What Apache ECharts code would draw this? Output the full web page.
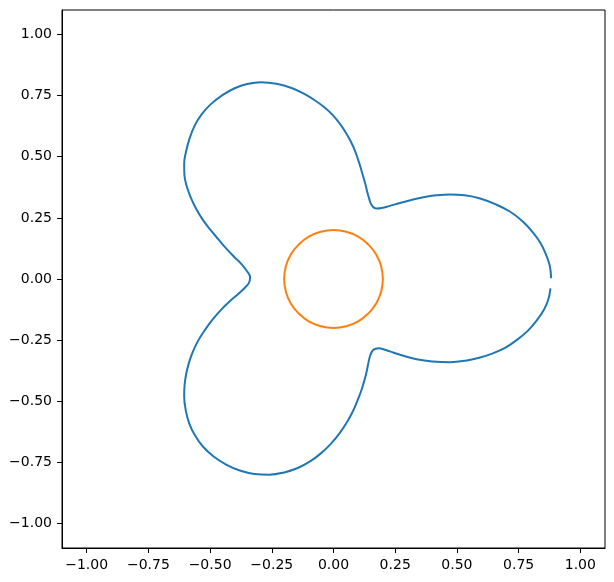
<!DOCTYPE html>
<html>
<head>
<meta charset="utf-8">
<script src="https://cdn.jsdelivr.net/npm/echarts@6/dist/echarts.min.js"></script>
<style>
html,body{margin:0;padding:0;background:#fff;}
#chart{width:614px;height:582px;}
</style>
</head>
<body>
<div id="chart"></div>
<script>
// Blue three-lobed curve, in drawing order
const curveX = [0.882,0.876,0.859,0.838,0.811,0.767,0.716,0.658,0.594,0.532,0.472,0.415,0.364,0.315,0.269,0.225,0.195,0.176,0.161,0.151,0.144,0.137,0.131,0.123,0.113,0.100,0.086,0.070,0.052,0.027,-0.002,-0.037,-0.076,-0.120,-0.170,-0.230,-0.293,-0.350,-0.400,-0.450,-0.500,-0.535,-0.562,-0.584,-0.598,-0.605,-0.604,-0.595,-0.579,-0.556,-0.530,-0.500,-0.467,-0.435,-0.403,-0.373,-0.351,-0.338,-0.342,-0.358,-0.385,-0.417,-0.452,-0.487,-0.520,-0.550,-0.575,-0.593,-0.603,-0.605,-0.599,-0.585,-0.562,-0.530,-0.487,-0.435,-0.380,-0.320,-0.260,-0.200,-0.145,-0.095,-0.050,-0.010,0.025,0.055,0.079,0.098,0.113,0.125,0.134,0.141,0.148,0.157,0.170,0.185,0.205,0.228,0.280,0.337,0.400,0.472,0.535,0.590,0.640,0.695,0.743,0.787,0.825,0.852,0.870,0.879];
const curveY = [0.003,0.055,0.105,0.148,0.187,0.235,0.275,0.305,0.329,0.342,0.346,0.342,0.334,0.323,0.311,0.298,0.290,0.288,0.294,0.308,0.330,0.355,0.380,0.410,0.445,0.487,0.527,0.562,0.595,0.633,0.669,0.702,0.731,0.758,0.781,0.798,0.805,0.797,0.780,0.752,0.712,0.672,0.628,0.572,0.518,0.472,0.425,0.380,0.335,0.286,0.243,0.203,0.163,0.125,0.091,0.061,0.033,0.008,-0.015,-0.035,-0.060,-0.088,-0.122,-0.162,-0.207,-0.255,-0.310,-0.370,-0.430,-0.480,-0.535,-0.589,-0.638,-0.684,-0.725,-0.759,-0.783,-0.797,-0.800,-0.791,-0.773,-0.746,-0.712,-0.673,-0.630,-0.585,-0.540,-0.495,-0.455,-0.415,-0.380,-0.345,-0.315,-0.295,-0.285,-0.283,-0.288,-0.296,-0.313,-0.328,-0.337,-0.340,-0.334,-0.322,-0.306,-0.282,-0.249,-0.212,-0.167,-0.127,-0.085,-0.038];

// Orange circle of radius 0.2
const circleX = [0.2,0.193,0.173,0.141,0.1,0.052,0,-0.052,-0.1,-0.141,-0.173,-0.193,-0.2,-0.193,-0.173,-0.141,-0.1,-0.052,0,0.052,0.1,0.141,0.173,0.193,0.2];
const circleY = [0,0.052,0.1,0.141,0.173,0.193,0.2,0.193,0.173,0.141,0.1,0.052,0,-0.052,-0.1,-0.141,-0.173,-0.193,-0.2,-0.193,-0.173,-0.141,-0.1,-0.052,0];

// Tick values
const xTicks = [-1,-0.75,-0.5,-0.25,0,0.25,0.5,0.75,1];
const yTicks = [-1,-0.75,-0.5,-0.25,0,0.25,0.5,0.75,1];

const zip = (a,b) => a.map((v,i)=>[v,b[i]]);
const fmt = v => (v < -1e-9 ? '\u2212' : '') + Math.abs(v).toFixed(2);

function axis(ticks){
  return {
    type:'value', min:-1.1, max:1.1,
    axisLine:{show:true, onZero:false, lineStyle:{color:'#000', width:1}},
    axisTick:{show:true, inside:false, length:5, lineStyle:{color:'#000', width:1}, customValues:ticks},
    axisLabel:{show:true, color:'#000', fontSize:14, fontFamily:'DejaVu Sans', margin:10, formatter:fmt, customValues:ticks},
    splitLine:{show:false}
  };
}

const chart = echarts.init(document.getElementById('chart'), null, {renderer:'canvas'});
chart.setOption({
  animation:false,
  backgroundColor:'#fff',
  grid:{left:62, right:9, top:10, bottom:34, show:true, borderColor:'#000', borderWidth:1, backgroundColor:'transparent'},
  xAxis: axis(xTicks),
  yAxis: axis(yTicks),
  series:[
    {type:'line', data:zip(curveX,curveY), showSymbol:false, smooth:0.4, lineStyle:{color:'#1f77b4', width:2}, itemStyle:{color:'#1f77b4'}},
    {type:'line', data:zip(circleX,circleY), showSymbol:false, smooth:true, lineStyle:{color:'#ff7f0e', width:2}, itemStyle:{color:'#ff7f0e'}}
  ]
});
</script>
</body>
</html>
